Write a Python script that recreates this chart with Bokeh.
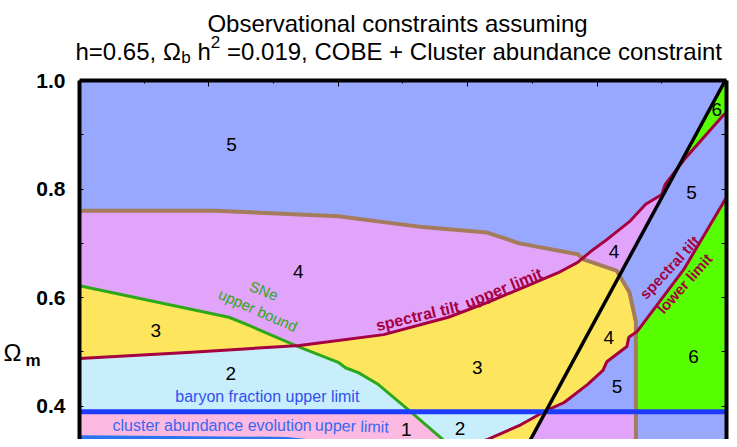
import numpy as np
from bokeh.plotting import figure
from bokeh.models import Range1d, LinearAxis, FixedTicker, Label
from bokeh.core.properties import value
from bokeh.embed import file_html
from bokeh.resources import INLINE

# ---------------- data (x: horizontal parameter 0..1, y: Omega_m) ----------------
x_lim = [0.0, 1.0]
y_top = 1.0
y_ticks = [0.4, 0.6, 0.8, 1.0]
y_tick_labels = ["0.4", "0.6", "0.8", "1.0"]
y_minor = [0.5, 0.7, 0.9]
x_ticks = [0.2, 0.4, 0.6, 0.8]
x_minor = [0.1, 0.3, 0.5, 0.7, 0.9]

# brown boundary (upper envelope), ends in a vertical edge at x = 0.86
brown_x = [0.0, 0.21, 0.40, 0.53, 0.63, 0.68, 0.77, 0.78, 0.83, 0.85, 0.86]
brown_y = [0.76, 0.76, 0.75, 0.73, 0.72, 0.70, 0.68, 0.67, 0.65, 0.61, 0.555]

# spectral tilt upper limit
tilt_up_x = [0.0, 0.18, 0.34, 0.47, 0.57, 0.63, 0.69, 0.74, 0.77, 0.79, 0.815, 0.85,
             0.875, 0.90, 0.905, 0.935, 0.995, 1.0]
tilt_up_y = [0.488, 0.50, 0.512, 0.532, 0.564, 0.591, 0.621, 0.646, 0.665, 0.685, 0.707,
             0.74, 0.772, 0.79, 0.808, 0.855, 0.936, 0.94]

# spectral tilt lower limit
tilt_lo_x = [0.577, 0.631, 0.682, 0.718, 0.749, 0.785, 0.809, 0.815, 0.846, 0.849, 0.862,
             0.934, 0.995, 1.0]
tilt_lo_y = [0.320, 0.339, 0.366, 0.390, 0.407, 0.440, 0.466, 0.482, 0.510, 0.527, 0.538,
             0.652, 0.775, 0.785]

# SNe upper bound
sne_x = [0.0, 0.231, 0.262, 0.338, 0.40, 0.411, 0.431, 0.462, 0.508, 0.574, 0.585]
sne_y = [0.622, 0.564, 0.549, 0.510, 0.481, 0.471, 0.462, 0.440, 0.394, 0.326, 0.315]

# black straight line
black_x = [0.69, 0.998]
black_y = [0.323, 1.0]

# baryon fraction upper limit
baryon_y = 0.39

# cluster abundance evolution upper limit
cluster_x = [0.0, 0.32, 0.36, 0.43, 0.47]
cluster_y = [0.343, 0.340, 0.335, 0.326, 0.316]

# region numbers
num_text = ["5", "4", "3", "2", "3", "1", "2", "4", "4", "5", "5", "6", "6"]
num_x = [0.235, 0.338, 0.118, 0.234, 0.615, 0.505, 0.588, 0.826, 0.818, 0.831, 0.946, 0.985, 0.949]
num_y = [0.882, 0.648, 0.540, 0.460, 0.471, 0.358, 0.360, 0.685, 0.527, 0.436, 0.794, 0.947, 0.492]

C5, C4, C3, C2, C1, C6 = "#98a8ff", "#e2a4fa", "#fde65e", "#c8eefc", "#fcb9e2", "#58ff00"
BROWN, CRIMSON, GREEN = "#a47c5c", "#a5003f", "#2ea81a"
BARYON, CLUSTER = "#1e3cff", "#2a74f0"
FONT = "Liberation Sans"

# ---------------- region construction ----------------
xs = np.unique(np.concatenate([np.linspace(0, 1, 2001), [brown_x[-1]]]))
BOT, TOP = 0.30, y_top
Bf = np.interp(xs, brown_x, brown_y)
Uf = np.interp(xs, tilt_up_x, tilt_up_y)
Lf = np.interp(xs, tilt_lo_x, tilt_lo_y, left=-1.0)
Gf = np.interp(xs, sne_x, sne_y, right=-1.0)
Kf = np.interp(xs, black_x, black_y, left=-1.0, right=2.0)
Qf = np.full_like(xs, baryon_y)
Cf = np.interp(xs, cluster_x, cluster_y, right=-1.0)
XB = brown_x[-1]


def region(lows, highs, xmin=0.0, xmax=1.0):
    lo = np.maximum.reduce([np.full_like(xs, BOT)] + lows)
    hi = np.minimum.reduce([np.full_like(xs, TOP)] + highs)
    ok = (hi > lo) & (xs >= xmin - 1e-9) & (xs <= xmax + 1e-9)
    idx = np.flatnonzero(ok)
    out_x, out_y = [], []
    if idx.size == 0:
        return out_x, out_y
    for run in np.split(idx, np.flatnonzero(np.diff(idx) > 1) + 1):
        out_x.append(np.concatenate([xs[run], xs[run][::-1]]).tolist())
        out_y.append(np.concatenate([hi[run], lo[run][::-1]]).tolist())
    return out_x, out_y


layers = [
    ([], [], 0.0, 1.0, C5),
    ([], [Bf], 0.0, XB, C4),
    ([Kf], [Uf], 0.0, 1.0, C4),
    ([Uf], [Gf, Bf], 0.0, XB, C3),
    ([Lf], [Uf, Bf], 0.0, XB, C3),
    ([Qf], [Uf, Gf], 0.0, 1.0, C2),
    ([Cf], [Qf, Gf], 0.0, 1.0, C1),
    ([Gf, Lf, Kf], [Qf], 0.0, 1.0, C2),
    ([Kf, Gf], [Qf, Lf], 0.0, 1.0, C3),
    ([], [Cf], 0.0, 1.0, "#ffffff"),
    ([Qf], [Lf, Kf], 0.0, XB, C5),
    ([Uf], [Kf], 0.0, 1.0, C6),
    ([Qf], [Lf], XB, 1.0, C6),
]
px, py, pc = [], [], []
for lows, highs, a, b, col in layers:
    rx, ry = region(lows, highs, a, b)
    px += rx
    py += ry
    pc += [col] * len(rx)

# ---------------- figure (frame spans the whole canvas; axes at fixed locations) ----------------
W, H = 729, 439
X0, X1 = -0.122102, 1.004637
Y0, Y1 = 0.338858, 1.147330
p = figure(width=W, height=H, output_backend="svg", toolbar_location=None,
           x_range=Range1d(X0, X1), y_range=Range1d(Y0, Y1),
           x_axis_location=None, y_axis_location=None, min_border=0)
p.outline_line_color = None
p.background_fill_color = "white"
p.border_fill_color = "white"
p.grid.visible = False

p.patches(xs=px, ys=py, fill_color=pc, line_color=pc, line_width=0.3)

# boundary lines
p.line(brown_x + [brown_x[-1]], brown_y + [BOT], line_color=BROWN, line_width=4, line_join="round")
p.line(sne_x, sne_y, line_color=GREEN, line_width=3, line_join="round")
p.line(tilt_up_x, tilt_up_y, line_color=CRIMSON, line_width=3, line_join="round")
p.line(tilt_lo_x, tilt_lo_y, line_color=CRIMSON, line_width=3, line_join="round")
p.line(x_lim, [baryon_y, baryon_y], line_color=BARYON, line_width=5)
p.line(cluster_x, cluster_y, line_color=CLUSTER, line_width=4)
p.line(black_x, black_y, line_color="black", line_width=3.5)

# region numbers
p.text(x=num_x, y=num_y, text=num_text, text_font=value(FONT), text_font_size="19px",
       text_color="black", text_align="center", text_baseline="middle")

# curve annotations
p.text(x=[0.285], y=[0.613], text=["SNe"], angle=[-0.38], text_font=value(FONT),
       text_font_size="15px", text_color=GREEN, text_align="center", text_baseline="middle")
p.text(x=[0.276], y=[0.577], text=["upper bound"], angle=[-0.42], text_font=value(FONT),
       text_font_size="15px", text_color=GREEN, text_align="center", text_baseline="middle")
p.text(x=[0.4585, 0.597], y=[0.548, 0.589], text=["spectral tilt", "upper limit"],
       angle=[0.235, 0.39], text_font=value(FONT), text_font_size="16px",
       text_font_style="bold", text_color=CRIMSON, text_align="left", text_baseline="alphabetic")
p.text(x=[0.912, 0.935], y=[0.656, 0.626], text=["spectral tilt", "lower limit"],
       angle=[0.82, 0.84], text_font=value(FONT), text_font_size="15px",
       text_font_style="bold", text_color=CRIMSON, text_align="center", text_baseline="middle")
p.text(x=[0.148], y=[0.418], text=["baryon fraction upper limit"], text_font=value(FONT),
       text_font_size="16px", text_color="#3050f0", text_align="left", text_baseline="middle")
p.text(x=[0.051], y=[0.364], text=["cluster abundance evolution"], text_font=value(FONT),
       text_font_size="16px", text_color="#3a68f0", text_align="left", text_baseline="middle")
p.text(x=[0.3640], y=[0.3655], text=["upper limit"], angle=[-0.03], text_font=value(FONT),
       text_font_size="16px", text_color="#3a68f0", text_align="left", text_baseline="middle")

# axes drawn as the plot frame
common = dict(axis_line_width=4, axis_line_color="black",
              major_tick_line_color="black", minor_tick_line_color="black")
left = LinearAxis(fixed_location=0.0, bounds=(Y0, y_top),
                  ticker=FixedTicker(ticks=y_ticks, minor_ticks=y_minor),
                  major_label_overrides={t: s for t, s in zip(y_ticks, y_tick_labels)},
                  major_label_text_font=FONT, major_label_text_font_size="21px",
                  major_label_text_font_style="bold", major_label_text_color="black",
                  major_tick_in=4, major_tick_out=0, minor_tick_in=4, minor_tick_out=0,
                  major_label_standoff=14, **common)
p.add_layout(left, "left")
top = LinearAxis(fixed_location=y_top, bounds=(0.0, 1.0),
                 ticker=FixedTicker(ticks=x_ticks, minor_ticks=x_minor),
                 major_label_overrides={t: "" for t in x_ticks},
                 major_label_text_font_size="0px", major_label_standoff=0,
                 major_tick_in=6, major_tick_out=0, minor_tick_in=3, minor_tick_out=0, **common)
p.add_layout(top, "above")
right = LinearAxis(fixed_location=1.0, bounds=(Y0, y_top),
                   ticker=FixedTicker(ticks=y_ticks, minor_ticks=y_minor),
                   major_label_overrides={t: "" for t in y_ticks},
                   major_label_text_font_size="0px", major_label_standoff=0,
                   major_tick_in=5, major_tick_out=0, minor_tick_in=5, minor_tick_out=0, **common)
p.add_layout(right, "right")


def lab(x, y, t, size, style="normal", align="left"):
    p.add_layout(Label(x=x, y=y, text=t, text_font=FONT, text_font_size=size,
                       text_font_style=style, text_color="black", text_align=align,
                       text_baseline="alphabetic"))


# title (two lines, with sub/superscripts)
lab(0.4915, 1.105, "Observational constraints assuming", "24px", align="center")
lab(-0.0062, 1.0534, "h=0.65, Ω", "24px")
lab(0.1573, 1.0424, "b", "17px")
lab(0.1824, 1.0534, "h", "24px")
lab(0.2029, 1.0718, "2", "17px")
lab(0.2280, 1.0534, "=0.019, COBE + Cluster abundance constraint", "24px")

# y axis label Omega_m
lab(-0.1175, 0.4991, "Ω", "24px")
lab(-0.0835, 0.4843, "m", "17px", style="bold")

open("out.html", "w").write(file_html(p, INLINE))
